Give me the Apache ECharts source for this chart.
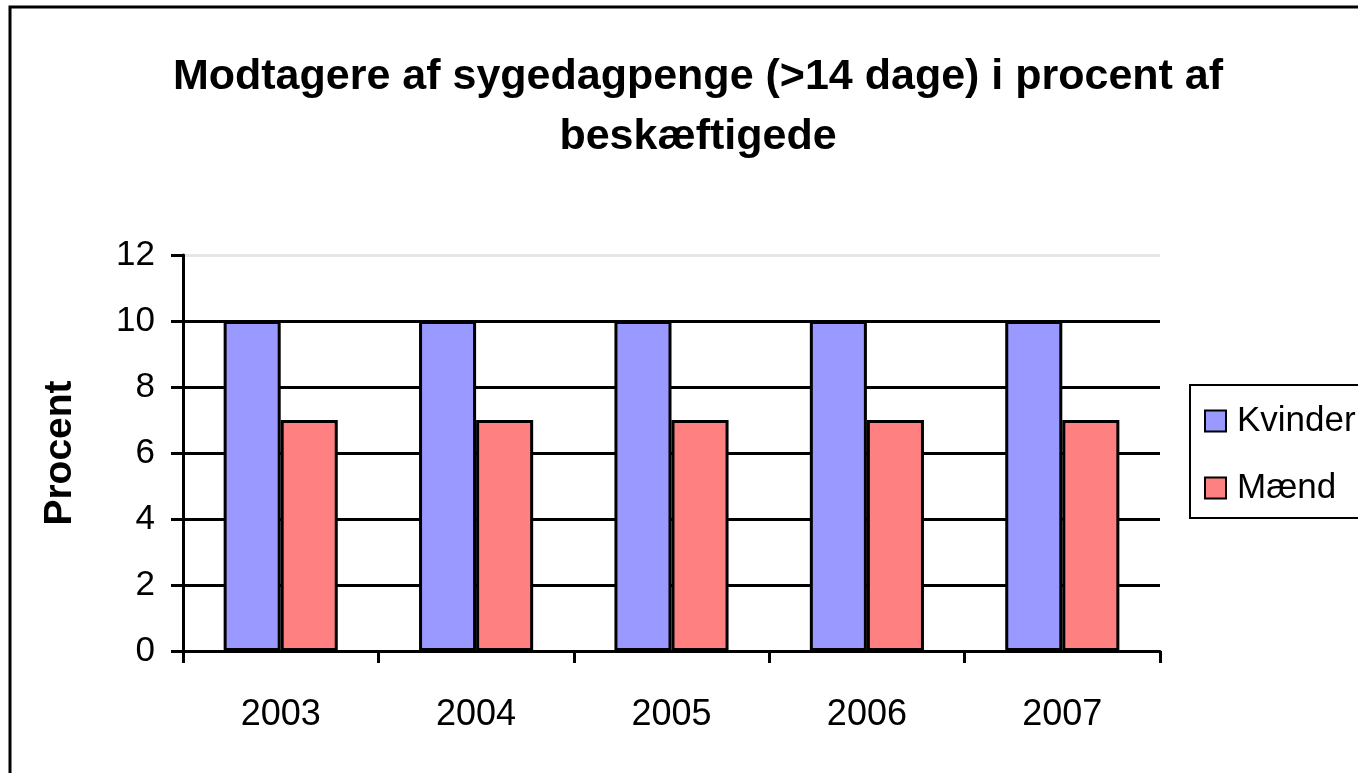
<!DOCTYPE html>
<html>
<head>
<meta charset="utf-8">
<script src="https://cdn.jsdelivr.net/npm/echarts@6/dist/echarts.min.js"></script>
<style>
  html, body { margin: 0; padding: 0; background: #fff; }
  #chart { width: 1358px; height: 773px; }
</style>
</head>
<body>
<div id="chart"></div>
<script>
// data
const years = ["2003", "2004", "2005", "2006", "2007"];
const kvinder = [10, 10, 10, 10, 10];
const maend = [7, 7, 7, 7, 7];
const yTicks = { min: 0, max: 12, interval: 2 };

const chart = echarts.init(document.getElementById("chart"));
const font = "'Liberation Sans', Arial, sans-serif";

chart.setOption({
  backgroundColor: "#fff",
  animation: false,
  textStyle: { fontFamily: font },
  title: {
    text: "Modtagere af sygedagpenge (>14 dage) i procent af\nbeskæftigede",
    left: 693,
    top: 42,
    textAlign: "center",
    textStyle: {
      fontFamily: font,
      fontSize: 43,
      fontWeight: "bold",
      color: "#000",
      lineHeight: 60
    }
  },
  graphic: [{
    type: "rect",
    shape: { x: 10, y: 7, width: 1400, height: 800 },
    style: { fill: "none", stroke: "#000", lineWidth: 3 },
    silent: true,
    z: 100
  }],
  legend: {
    data: ["Kvinder", "Mænd"],
    orient: "vertical",
    left: 1190,
    top: 385,
    padding: [16, 60, 10, 14],
    itemGap: 27,
    itemWidth: 21,
    itemHeight: 21,
    borderColor: "#000",
    borderWidth: 2,
    icon: "rect",
    itemStyle: { borderColor: "#000", borderWidth: 2 },
    textStyle: { fontFamily: font, fontSize: 35, color: "#000", lineHeight: 40, padding: [0, 0, 0, 6] }
  },
  grid: { left: 183, right: 198, top: 255, bottom: 122 },
  xAxis: {
    type: "category",
    data: years,
    axisLine: { lineStyle: { color: "#000", width: 3 } },
    axisTick: { show: true, length: 12, lineStyle: { color: "#000", width: 3 } },
    axisLabel: { color: "#000", fontSize: 36, fontFamily: font, margin: 46 }
  },
  yAxis: {
    type: "value",
    min: yTicks.min,
    max: yTicks.max,
    interval: yTicks.interval,
    name: "Procent",
    nameLocation: "middle",
    nameRotate: 90,
    nameGap: 103,
    nameTextStyle: { fontFamily: font, fontSize: 39, fontWeight: "bold", color: "#000" },
    axisLine: { show: true, lineStyle: { color: "#000", width: 3 } },
    axisTick: { show: true, length: 12, lineStyle: { color: "#000", width: 3 } },
    axisLabel: { color: "#000", fontSize: 35, fontFamily: font, margin: 28 },
    splitLine: {
      show: true,
      lineStyle: {
        color: ["#000", "#000", "#000", "#000", "#000", "#000", "#e6e6e6"],
        width: 3
      }
    }
  },
  series: [
    {
      name: "Kvinder",
      type: "bar",
      data: kvinder,
      barGap: "0%",
      barCategoryGap: "41.6%",
      itemStyle: { color: "#9999ff", borderColor: "#000", borderWidth: 3 }
    },
    {
      name: "Mænd",
      type: "bar",
      data: maend,
      barGap: "0%",
      barCategoryGap: "41.6%",
      itemStyle: { color: "#ff8080", borderColor: "#000", borderWidth: 3 }
    }
  ]
});
</script>
</body>
</html>
